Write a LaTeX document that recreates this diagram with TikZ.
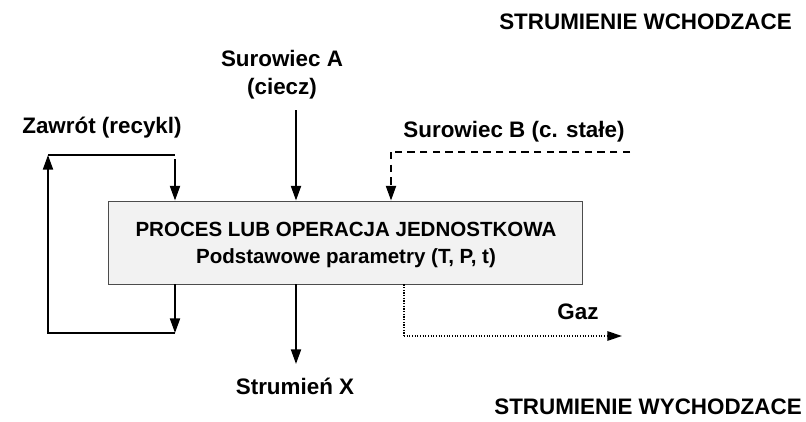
\documentclass[tikz,border=0pt]{standalone}
\usepackage{fontspec}
\setmainfont{Liberation Sans}
\usetikzlibrary{arrows.meta}
\begin{document}
\begin{tikzpicture}[x=0.75pt,y=-0.75pt,
  lbl/.style={font=\bfseries\fontsize{16.8}{21}\selectfont,inner sep=0pt,align=center},
  procbox/.style={draw=black!70,line width=0.7pt,fill=black!5,minimum width=355.5pt,minimum height=62.25pt,inner sep=0pt},
  boxtext/.style={inner sep=0pt,align=center,font=\bfseries\fontsize{15.4}{20.5}\selectfont},
  flow/.style={line width=1.5pt},
  arr/.style={flow,-{Triangle[length=11pt,width=7.5pt]}},
  dashedflow/.style={line width=1.5pt,dash pattern=on 5.5pt off 4pt},
  dottedflow/.style={line width=1.5pt,dash pattern=on 0.8pt off 1.2pt}
]
\useasboundingbox (0,0) rectangle (806,421);
\node[procbox] (box) at (345,242.5) {};
\node[boxtext] (boxt) at (346,245) {PROCES LUB OPERACJA JEDNOSTKOWA\\Podstawowe parametry (T, P, t)};

\node[lbl,anchor=east] (tin) at (792,22) {STRUMIENIE WCHODZACE};
\node[lbl,anchor=east] (tout) at (802,407) {STRUMIENIE WYCHODZACE};
\node[lbl] (rec) at (102,128) {Zawrót (recykl)};
\node[lbl] (sa) at (282,75) {Surowiec A\\(ciecz)};
\node[lbl] (sb) at (514,132) {Surowiec B (c. stałe)};
\node[lbl] (gaz) at (578,312) {Gaz};
\node[lbl] (sx) at (295,386) {Strumień X};

\coordinate (recT) at (175,155);
\coordinate (recLT) at (48,155);
\coordinate (recLB) at (48,333);
\coordinate (recB) at (175,333);
\coordinate (aS) at (296,110);
\coordinate (bC) at (391,152);
\coordinate (bE) at (630,152);
\coordinate (xE) at (296,364);
\coordinate (gC) at (404,336);
\coordinate (gE) at (622,336);

% recycle loop
\draw[arr] (recB |- box.south) -- (recB);
\draw[arr] (recB) -- (recLB) -- (recLT);
\draw[flow] (recLT) -- (recT);
\draw[arr] (175,159) -- (recT |- box.north);
% Surowiec A
\draw[arr] (aS) -- (aS |- box.north);
% Surowiec B
\draw[dashedflow] (bE) -- (bC);
\draw[dashedflow,-{Triangle[length=11pt,width=7.5pt]}] (bC) -- (bC |- box.north);
% Strumien X
\draw[arr] (xE |- box.south) -- (xE);
% Gaz
\draw[dottedflow] (gC |- box.south) -- (gC);
\draw[dottedflow,-{Triangle[length=11pt,width=7pt]}] (gC) -- (gE);
\end{tikzpicture}
\end{document}
